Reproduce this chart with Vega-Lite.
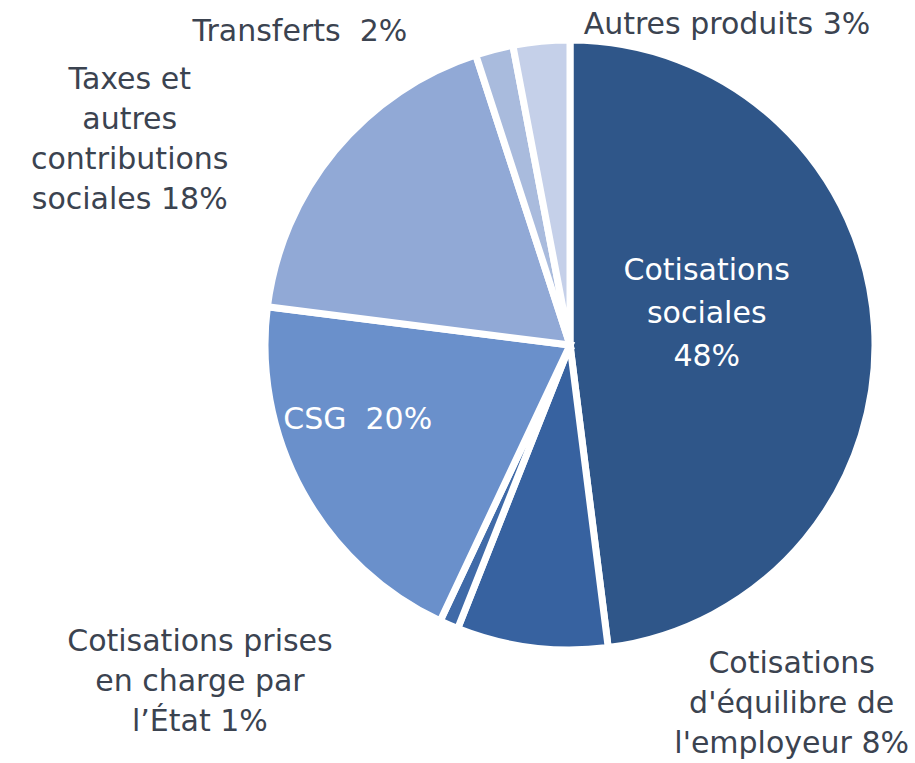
{
  "$schema": "https://vega.github.io/schema/vega-lite/v6.json",
  "autosize": {"type": "none"},
  "padding": {"left": 230, "top": 0, "right": 5, "bottom": 73},
  "width": 680,
  "height": 690,
  "background": "white",
  "config": {"view": {"stroke": null}, "text": {"font": "DejaVu Sans", "fontSize": 30, "lineHeight": 40}},
  "data": {"values": [
    {"cat": "Cotisations sociales", "ord": 1, "pct": 48, "label": ["Cotisations", "sociales", "48%"]},
    {"cat": "Cotisations d'équilibre de l'employeur", "ord": 2, "pct": 8, "label": ["Cotisations", "d'équilibre de", "l'employeur 8%"]},
    {"cat": "Cotisations prises en charge par l'État", "ord": 3, "pct": 1, "label": ["Cotisations prises", "en charge par", "l’État 1%"]},
    {"cat": "CSG", "ord": 4, "pct": 20, "label": "CSG \u00a020%"},
    {"cat": "Taxes et autres contributions sociales", "ord": 5, "pct": 18, "label": ["Taxes et", "autres", "contributions", "sociales 18%"]},
    {"cat": "Transferts", "ord": 6, "pct": 2, "label": "Transferts \u00a02%"},
    {"cat": "Autres produits", "ord": 7, "pct": 3, "label": "Autres produits 3%"}
  ]},
  "encoding": {
    "theta": {"field": "pct", "type": "quantitative", "stack": true},
    "order": {"field": "ord", "type": "quantitative"}
  },
  "layer": [
    {
      "mark": {"type": "arc", "radius": 305, "stroke": "white", "strokeWidth": 7},
      "encoding": {
        "color": {"field": "cat", "type": "nominal", "legend": null,
          "scale": {"domain": ["Cotisations sociales", "Cotisations d'équilibre de l'employeur", "Cotisations prises en charge par l'État", "CSG", "Taxes et autres contributions sociales", "Transferts", "Autres produits"],
                    "range": ["#2f5689", "#3762a0", "#3f6aa8", "#6a90cb", "#91a9d6", "#a9bbdd", "#c5d0e9"]}}
      }
    },
    {
      "mark": {"type": "text", "radius": 137, "dy": -65, "color": "white", "align": "center", "baseline": "middle", "lineHeight": 43},
      "encoding": {"text": {"condition": {"test": "datum.ord === 1", "field": "label"}, "value": ""}}
    },
    {
      "mark": {"type": "text", "radius": 240, "dx": -2, "dy": -41, "color": "white", "align": "center", "baseline": "middle"},
      "encoding": {"text": {"condition": {"test": "datum.ord === 4", "field": "label"}, "value": ""}}
    },
    {
      "mark": {"type": "text", "radius": 330, "dx": -186, "dy": -55, "color": "#3b4350", "align": "center", "baseline": "middle"},
      "encoding": {"text": {"condition": {"test": "datum.ord === 5", "field": "label"}, "value": ""}}
    },
    {
      "mark": {"type": "text", "radius": 330, "dx": -188, "dy": 7, "color": "#3b4350", "align": "center", "baseline": "middle"},
      "encoding": {"text": {"condition": {"test": "datum.ord === 6", "field": "label"}, "value": ""}}
    },
    {
      "mark": {"type": "text", "radius": 330, "dx": 188, "dy": 9, "color": "#3b4350", "align": "center", "baseline": "middle"},
      "encoding": {"text": {"condition": {"test": "datum.ord === 7", "field": "label"}, "value": ""}}
    },
    {
      "mark": {"type": "text", "radius": 330, "dx": -239, "dy": -6, "color": "#3b4350", "align": "center", "baseline": "middle"},
      "encoding": {"text": {"condition": {"test": "datum.ord === 3", "field": "label"}, "value": ""}}
    },
    {
      "mark": {"type": "text", "radius": 330, "dx": 263, "dy": -8, "color": "#3b4350", "align": "center", "baseline": "middle"},
      "encoding": {"text": {"condition": {"test": "datum.ord === 2", "field": "label"}, "value": ""}}
    }
  ]
}
